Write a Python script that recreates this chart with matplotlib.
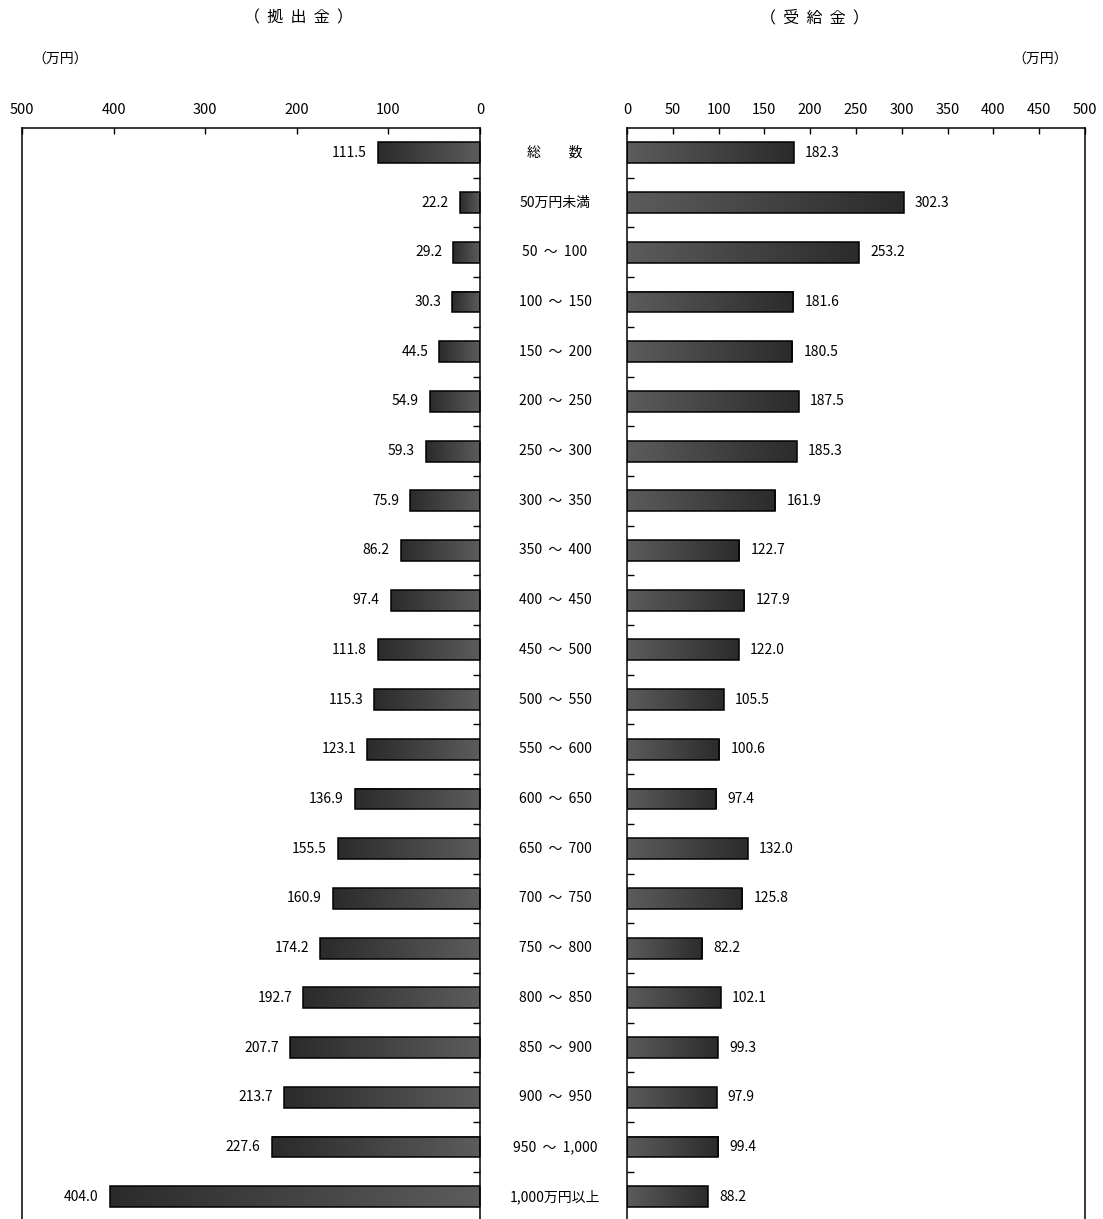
import numpy as np
import matplotlib.pyplot as plt
from matplotlib.colors import LinearSegmentedColormap

plt.rcParams['font.family'] = ['Noto Sans CJK JP', 'DejaVu Sans']

categories = ['総　　数', '50万円未満', '50  ～  100', '100  ～  150', '150  ～  200',
              '200  ～  250', '250  ～  300', '300  ～  350', '350  ～  400', '400  ～  450',
              '450  ～  500', '500  ～  550', '550  ～  600', '600  ～  650', '650  ～  700',
              '700  ～  750', '750  ～  800', '800  ～  850', '850  ～  900', '900  ～  950',
              '950  ～  1,000', '1,000万円以上']
contrib = [111.5, 22.2, 29.2, 30.3, 44.5, 54.9, 59.3, 75.9, 86.2, 97.4, 111.8,
           115.3, 123.1, 136.9, 155.5, 160.9, 174.2, 192.7, 207.7, 213.7, 227.6, 404.0]
benefit = [182.3, 302.3, 253.2, 181.6, 180.5, 187.5, 185.3, 161.9, 122.7, 127.9, 122.0,
           105.5, 100.6, 97.4, 132.0, 125.8, 82.2, 102.1, 99.3, 97.9, 99.4, 88.2]
left_ticks = [0, 100, 200, 300, 400, 500]
right_ticks = [0, 50, 100, 150, 200, 250, 300, 350, 400, 450, 500]

W, H = 1103, 1219
fig = plt.figure(figsize=(W / 100, H / 100), dpi=100)

top = 1 - 128 / H
bottom = -5 / H
axL = fig.add_axes([22 / W, bottom, 458 / W, top - bottom])
axR = fig.add_axes([627 / W, bottom, 458 / W, top - bottom])

cmap = LinearSegmentedColormap.from_list('g', ['#5c5c5c', '#2b2b2b'])
grad = np.linspace(0, 1, 256).reshape(1, -1)
n = len(categories)
bh = 0.42

def draw_bars(ax, vals, side):
    for i, v in enumerate(vals):
        # gradient runs light at zero, dark at bar end
        ax.imshow(grad, extent=[0, v, i + bh / 2, i - bh / 2], aspect='auto',
                  cmap=cmap, interpolation='bilinear', zorder=2)
    ax.barh(range(n), vals, height=bh, facecolor='none', edgecolor='black',
            linewidth=1.1, zorder=3)
    for i, v in enumerate(vals):
        if side == 'left':
            ax.annotate(f'{v:.1f}', (v, i), xytext=(-8, 0), textcoords='offset points',
                        ha='right', va='center', fontsize=10)
        else:
            ax.annotate(f'{v:.1f}', (v, i), xytext=(8, 0), textcoords='offset points',
                        ha='left', va='center', fontsize=10)
    ax.set_ylim(n - 0.5 + 0.05, -0.5)
    ax.set_yticks([])
    ax.set_yticks(np.arange(0.5, n - 0.5), minor=True)
    ax.xaxis.tick_top()
    ax.tick_params(axis='x', direction='in', length=4, width=1, labelsize=10.5, pad=8)
    ax.tick_params(axis='y', which='minor', direction='in', length=5, width=1)
    ax.spines['bottom'].set_visible(False)
    for s in ax.spines.values():
        s.set_linewidth(1.1)

draw_bars(axL, contrib, 'left')
axL.set_xlim(500, 0)
axL.set_xticks(left_ticks)
axL.yaxis.tick_right()
axL.tick_params(axis='y', which='minor', right=True, left=False)

draw_bars(axR, benefit, 'right')
axR.set_xlim(0, 500)
axR.set_xticks(right_ticks)
axR.tick_params(axis='y', which='minor', left=True, right=False)

for i, c in enumerate(categories):
    axL.annotate(c, (0, i), xytext=(555 - 480, 0), textcoords='offset pixels',
                 ha='center', va='center', fontsize=10, annotation_clip=False)

fig.text(298 / W, 1 - 18 / H, '（  拠  出  金  ）', ha='center', va='center', fontsize=11.5)
fig.text(815 / W, 1 - 18 / H, '（  受  給  金  ）', ha='center', va='center', fontsize=11.5)
fig.text(60 / W, 1 - 60 / H, '（万円）', ha='center', va='center', fontsize=10)
fig.text(1040 / W, 1 - 60 / H, '（万円）', ha='center', va='center', fontsize=10)

fig.savefig('out.png', dpi=100)
